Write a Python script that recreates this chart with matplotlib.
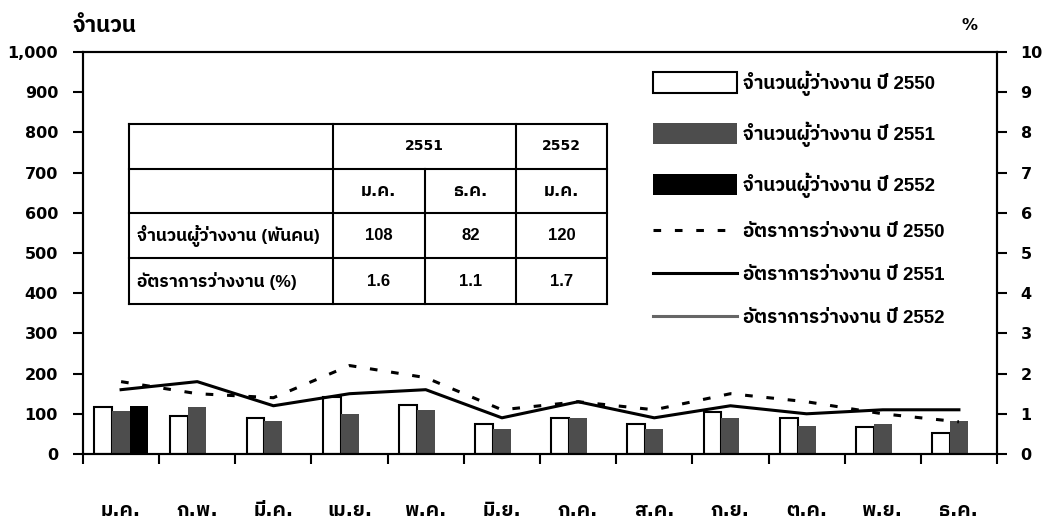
import numpy as np
import matplotlib
matplotlib.use('Agg')
import matplotlib.pyplot as plt
from matplotlib import font_manager as fm
from matplotlib.ft2font import FT2Font
from matplotlib.lines import Line2D
from matplotlib.patches import Patch, Rectangle
from matplotlib.legend_handler import HandlerPatch

# data
months = ['ม.ค.', 'ก.พ.', 'มี.ค.', 'เม.ย.', 'พ.ค.', 'มิ.ย.',
          'ก.ค.', 'ส.ค.', 'ก.ย.', 'ต.ค.', 'พ.ย.', 'ธ.ค.']
nan = np.nan
unemp_2550 = [117, 95, 89, 143, 123, 75, 89, 75, 104, 89, 66, 52]
unemp_2551 = [108, 118, 81, 100, 109, 61, 90, 61, 90, 70, 75, 82]
unemp_2552 = [120, nan, nan, nan, nan, nan, nan, nan, nan, nan, nan, nan]
rate_2550 = [1.8, 1.5, 1.4, 2.2, 1.9, 1.1, 1.3, 1.1, 1.5, 1.3, 1.0, 0.8]
rate_2551 = [1.6, 1.8, 1.2, 1.5, 1.6, 0.9, 1.3, 0.9, 1.2, 1.0, 1.1, 1.1]
rate_2552 = [1.7, nan, nan, nan, nan, nan, nan, nan, nan, nan, nan, nan]

table_head = ['2551', '2552']
table_months = ['ม.ค.', 'ธ.ค.', 'ม.ค.']
table_rows = ['จำนวนผู้ว่างงาน (พันคน)', 'อัตราการว่างงาน (%)']
table_vals = [['108', '82', '120'], ['1.6', '1.1', '1.7']]

# thai font that comes with a bold face
bold_thai = {}
for f in fm.fontManager.ttflist:
    try:
        cm = FT2Font(f.fname).get_charmap()
    except Exception:
        continue
    if 0x0E08 in cm:
        wt = f.weight if isinstance(f.weight, int) else (700 if 'bold' in str(f.weight) else 400)
        bold_thai[f.name] = max(bold_thai.get(f.name, 0), wt)
pref = ['Noto Sans Thai UI', 'Noto Sans Thai', 'IBM Plex Sans Thai', 'Prompt', 'Kanit', 'Anuphan']
pick = [n for n in pref if bold_thai.get(n, 0) >= 600]
thai_font = pick[0] if pick else [n for n in pref if n in bold_thai][0]
wide = ['DejaVu Sans', thai_font]
narrow = ['Liberation Sans', thai_font]
plt.rcParams['font.family'] = wide
plt.rcParams['font.weight'] = 'bold'

W, H = 1059, 525
fig = plt.figure(figsize=(W / 100, H / 100), dpi=100)
ax = fig.add_axes([83 / W, 1 - 454 / H, (997 - 83) / W, (454 - 52) / H])
ax2 = ax.twinx()

x = np.arange(len(months))
w = 0.235
ax.bar(x - w, unemp_2550, w, color='white', edgecolor='black', linewidth=1.5)
ax.bar(x, unemp_2551, w, color='#4d4d4d')
ax.bar(x + w, unemp_2552, w, color='black')

ax2.plot(x, rate_2550, color='black', lw=2.2, ls=(0, (2.5, 4.5)))
ax2.plot(x, rate_2551, color='black', lw=2.2)
ax2.plot(x, rate_2552, color='#666666', lw=2.2)

ax.set_xlim(-0.5, 11.5)
ax.set_ylim(0, 1000)
ax2.set_ylim(0, 10)
ax.set_yticks(range(0, 1001, 100))
ax.set_yticklabels([f'{v:,}' for v in range(0, 1001, 100)], fontsize=11.5, fontweight='bold')
ax2.set_yticks(range(0, 11))
ax2.set_yticklabels([str(v) for v in range(11)], fontsize=11.5, fontweight='bold')
ax.set_xticks(x)
ax.set_xticklabels(months, fontsize=14, fontweight='bold')
ax.set_xticks(np.arange(-0.5, 12), minor=True)
ax.tick_params(axis='x', which='major', length=0, pad=34)
ax.tick_params(axis='x', which='minor', length=7, width=1.5, direction='out')
ax.tick_params(axis='y', length=7, width=1.5, pad=11)
ax2.tick_params(axis='y', length=7, width=1.5, pad=10)
for a in (ax, ax2):
    for s in a.spines.values():
        s.set_linewidth(1.5)

fig.text(73 / W, 1 - 26 / H, 'จำนวน', fontsize=16, fontweight='bold', va='center')
fig.text(970 / W, 1 - 26 / H, '%', fontsize=11.5, fontweight='bold', va='center', ha='center')

# legend, bar swatches drawn taller than the row
def tall_rect(legend, orig_handle, xdescent, ydescent, width, height, fontsize):
    return Rectangle((-xdescent, -ydescent - 3), width, height + 6)

handles = [Patch(facecolor='white', edgecolor='black', linewidth=1.5),
           Patch(facecolor='#4d4d4d'),
           Patch(facecolor='black'),
           Line2D([], [], color='black', lw=2.2, ls=(0, (2.5, 4.5))),
           Line2D([], [], color='black', lw=2.2),
           Line2D([], [], color='#666666', lw=2.2)]
labels = ['จำนวนผู้ว่างงาน ปี 2550', 'จำนวนผู้ว่างงาน ปี 2551', 'จำนวนผู้ว่างงาน ปี 2552',
          'อัตราการว่างงาน ปี 2550', 'อัตราการว่างงาน ปี 2551', 'อัตราการว่างงาน ปี 2552']
ax2.legend(handles, labels, loc='upper left', bbox_to_anchor=((653 - 83) / 914, (454 - 71) / 402),
           frameon=False, prop={'family': narrow, 'weight': 'bold', 'size': 13.5},
           handlelength=4.5, handleheight=0.7,
           handletextpad=0.3, labelspacing=1.37, borderpad=0, borderaxespad=0,
           handler_map={Patch: HandlerPatch(patch_func=tall_rect)})

# table
cols = [129, 333, 425, 516, 607]
rows = [124, 169, 213, 258, 304]
def fx(px):
    return px / W
def fy(py):
    return 1 - py / H
def hline(y, x0, x1):
    fig.add_artist(Line2D([fx(x0), fx(x1)], [fy(y), fy(y)], color='black', lw=1.5))
def vline(x0, y0, y1):
    fig.add_artist(Line2D([fx(x0), fx(x0)], [fy(y0), fy(y1)], color='black', lw=1.5))
for r in rows:
    hline(r, cols[0], cols[-1])
for c in (cols[0], cols[1], cols[3], cols[4]):
    vline(c, rows[0], rows[-1])
vline(cols[2], rows[1], rows[-1])
def cell(txt, x0, x1, y0, y1, size, ha='center', fam=wide):
    xx = (x0 + x1) / 2 if ha == 'center' else x0 + 8
    fig.text(fx(xx), fy((y0 + y1) / 2), txt, ha=ha, va='center', fontsize=size,
             fontweight='bold', family=fam)
cell(table_head[0], cols[1], cols[3], rows[0], rows[1], 10)
cell(table_head[1], cols[3], cols[4], rows[0], rows[1], 10)
for j, m in enumerate(table_months):
    cell(m, cols[j + 1], cols[j + 2], rows[1], rows[2], 12.5)
for i, name in enumerate(table_rows):
    cell(name, cols[0], cols[1], rows[i + 2], rows[i + 3], 12.5, ha='left', fam=narrow)
    for j, v in enumerate(table_vals[i]):
        cell(v, cols[j + 1], cols[j + 2], rows[i + 2], rows[i + 3], 12, fam=narrow)

fig.savefig('out.png', dpi=100)
